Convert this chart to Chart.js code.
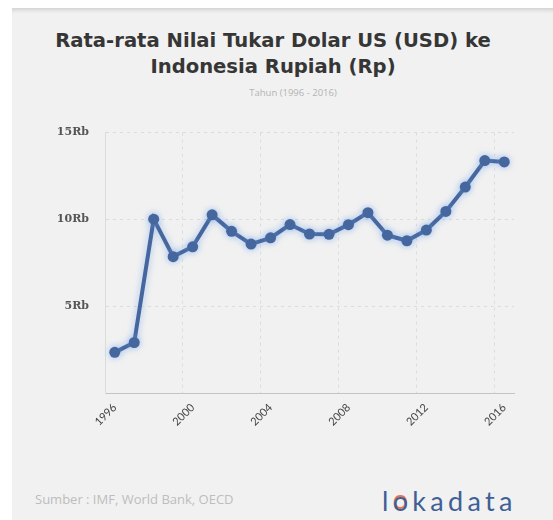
<!DOCTYPE html>
<html>
<head>
<meta charset="utf-8">
<script src="https://cdn.jsdelivr.net/npm/chart.js@4.4.1/dist/chart.umd.min.js"></script>
<style>
  body { margin: 0; background: #fff; width: 553px; height: 520px; overflow: hidden; font-family: "Open Sans", sans-serif; }
  .panel { position: absolute; left: 12px; top: 8px; width: 541px; height: 512px; background: #f1f1f1;
           box-shadow: inset 0 5px 4px -3px rgba(0,0,0,.14); }
  .title { position: absolute; left: 0; top: 20px; width: 522px; text-align: center; font-weight: bold;
           font-family: "DejaVu Sans", sans-serif; font-size: 19.6px; line-height: 26px; color: #363636; }
  .sub { position: absolute; left: 0; top: 78px; width: 562px; text-align: center; font-size: 9.5px; color: #b3b3b3; }
  .src { position: absolute; left: 23px; top: 482px; font-size: 13px; color: #bdbdbd; }
  .logo { position: absolute; left: 370px; top: 476px; font-size: 27px; color: #3f5f95; font-family: Lato, sans-serif;
          letter-spacing: 4.3px; }
  .logo span { text-shadow: 0 -2px 0 #e8714f; }
  #wrap { position: absolute; left: 0; top: 102px; width: 530px; height: 340px; }
</style>
</head>
<body>
<div class="panel">
  <div class="title">Rata-rata Nilai Tukar Dolar US (USD) ke<br>Indonesia Rupiah (Rp)</div>
  <div class="sub">Tahun (1996 - 2016)</div>
  <div id="wrap"><canvas id="c" width="530" height="340"></canvas></div>
  <div class="src">Sumber : IMF, World Bank, OECD</div>
  <div class="logo">l<span>o</span>kadata</div>
</div>
<script>
// Kurs rata-rata USD ke Rupiah per tahun
const years = ["1996","1997","1998","1999","2000","2001","2002","2003","2004","2005","2006",
               "2007","2008","2009","2010","2011","2012","2013","2014","2015","2016"];
const rates = [2342, 2909, 10014, 7855, 8422, 10261, 9311, 8577, 8939, 9705, 9159,
               9141, 9699, 10390, 9090, 8770, 9387, 10461, 11865, 13389, 13308];
const yTicks = [0, 5000, 10000, 15000];

const glow = {
  id: "glow",
  beforeDatasetsDraw(chart) {
    chart.ctx.save();
    chart.ctx.shadowColor = "rgba(110,160,235,.6)";
    chart.ctx.shadowBlur = 7;
  },
  afterDatasetsDraw(chart) { chart.ctx.restore(); }
};

new Chart(document.getElementById("c"), {
  type: "line",
  data: {
    labels: years,
    datasets: [{
      data: rates,
      borderColor: "#46679e",
      backgroundColor: "#46679e",
      borderWidth: 4,
      pointRadius: 5.5,
      pointBorderWidth: 0,
      pointBackgroundColor: "#46679e",
      tension: 0,
    }],
  },
  options: {
    responsive: false,
    animation: false,
    layout: { padding: { top: 19, right: 28 } },
    plugins: { legend: { display: false }, tooltip: { enabled: false } },
    scales: {
      x: {
        offset: true,
        grid: {
          offset: true,
          color: c => (c.index % 4 === 0 && c.index < years.length) ? "#dcdcdc" : "transparent",
          tickLength: 0,
        },
        border: { display: true, color: "#c4c4c4", dash: [3, 4], width: 1 },
        ticks: {
          autoSkip: false,
          maxRotation: 45, minRotation: 45,
          color: "#444", padding: 8,
          font: { family: "Lato", size: 11 },
          callback: (v, i) => i % 4 === 0 ? years[i] : "",
        },
        afterFit: s => { s.height = 57; },
      },
      y: {
        min: yTicks[0], max: yTicks[yTicks.length - 1],
        afterBuildTicks: s => { s.ticks = yTicks.map(v => ({ value: v })); },
        grid: { color: "#dcdcdc", tickLength: 0 },
        border: { display: true, color: "#dcdcdc", dash: [3, 4] },
        ticks: {
          color: "#555", padding: 16,
          font: { family: "DejaVu Serif", size: 11, weight: "bold" },
          callback: v => v === 0 ? "" : (v / 1000) + "Rb",
        },
        afterFit: s => { s.width = 93; },
      },
    },
  },
  plugins: [glow],
});
</script>
</body>
</html>
